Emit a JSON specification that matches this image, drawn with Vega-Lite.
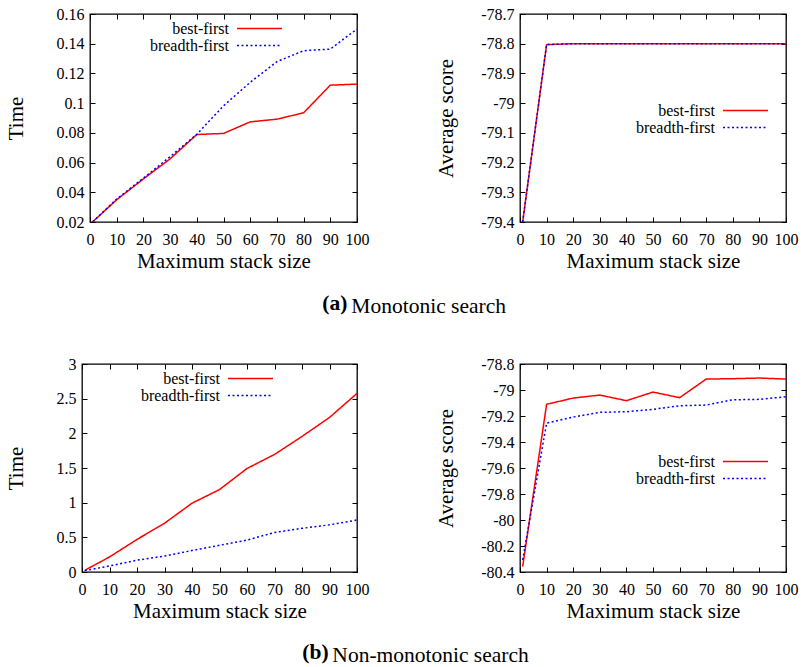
{
  "$schema": "https://vega.github.io/schema/vega-lite/v6.json",
  "background": "white",
  "padding": {"left": 4, "top": 5, "right": 0, "bottom": 0},
  "datasets": {
    "a_time": [
      {"size": 1, "method": "best-first", "value": 0.0201},
      {"size": 10, "method": "best-first", "value": 0.035},
      {"size": 20, "method": "best-first", "value": 0.049},
      {"size": 30, "method": "best-first", "value": 0.0625},
      {"size": 40, "method": "best-first", "value": 0.0789},
      {"size": 50, "method": "best-first", "value": 0.0796},
      {"size": 60, "method": "best-first", "value": 0.0874},
      {"size": 70, "method": "best-first", "value": 0.0892},
      {"size": 80, "method": "best-first", "value": 0.0935},
      {"size": 90, "method": "best-first", "value": 0.1121},
      {"size": 100, "method": "best-first", "value": 0.1128},
      {"size": 1, "method": "breadth-first", "value": 0.0201},
      {"size": 10, "method": "breadth-first", "value": 0.0355},
      {"size": 20, "method": "breadth-first", "value": 0.0495},
      {"size": 30, "method": "breadth-first", "value": 0.064},
      {"size": 40, "method": "breadth-first", "value": 0.079},
      {"size": 50, "method": "breadth-first", "value": 0.0982},
      {"size": 60, "method": "breadth-first", "value": 0.114},
      {"size": 70, "method": "breadth-first", "value": 0.1279},
      {"size": 80, "method": "breadth-first", "value": 0.1353},
      {"size": 90, "method": "breadth-first", "value": 0.1364},
      {"size": 100, "method": "breadth-first", "value": 0.1499}
    ],
    "a_score": [
      {"size": 1, "method": "best-first", "value": -79.4},
      {"size": 10, "method": "best-first", "value": -78.803},
      {"size": 20, "method": "best-first", "value": -78.8},
      {"size": 30, "method": "best-first", "value": -78.8},
      {"size": 40, "method": "best-first", "value": -78.8},
      {"size": 50, "method": "best-first", "value": -78.8},
      {"size": 60, "method": "best-first", "value": -78.8},
      {"size": 70, "method": "best-first", "value": -78.8},
      {"size": 80, "method": "best-first", "value": -78.8},
      {"size": 90, "method": "best-first", "value": -78.8},
      {"size": 100, "method": "best-first", "value": -78.8},
      {"size": 1, "method": "breadth-first", "value": -79.4},
      {"size": 10, "method": "breadth-first", "value": -78.803},
      {"size": 20, "method": "breadth-first", "value": -78.8},
      {"size": 30, "method": "breadth-first", "value": -78.8},
      {"size": 40, "method": "breadth-first", "value": -78.8},
      {"size": 50, "method": "breadth-first", "value": -78.8},
      {"size": 60, "method": "breadth-first", "value": -78.8},
      {"size": 70, "method": "breadth-first", "value": -78.8},
      {"size": 80, "method": "breadth-first", "value": -78.8},
      {"size": 90, "method": "breadth-first", "value": -78.8},
      {"size": 100, "method": "breadth-first", "value": -78.8}
    ],
    "b_time": [
      {"size": 1, "method": "best-first", "value": 0.024},
      {"size": 10, "method": "best-first", "value": 0.217},
      {"size": 20, "method": "best-first", "value": 0.47},
      {"size": 30, "method": "best-first", "value": 0.703},
      {"size": 40, "method": "best-first", "value": 0.992},
      {"size": 50, "method": "best-first", "value": 1.189},
      {"size": 60, "method": "best-first", "value": 1.493},
      {"size": 70, "method": "best-first", "value": 1.695},
      {"size": 80, "method": "best-first", "value": 1.955},
      {"size": 90, "method": "best-first", "value": 2.229},
      {"size": 100, "method": "best-first", "value": 2.576},
      {"size": 1, "method": "breadth-first", "value": 0.02},
      {"size": 10, "method": "breadth-first", "value": 0.087},
      {"size": 20, "method": "breadth-first", "value": 0.17},
      {"size": 30, "method": "breadth-first", "value": 0.23},
      {"size": 40, "method": "breadth-first", "value": 0.31},
      {"size": 50, "method": "breadth-first", "value": 0.385},
      {"size": 60, "method": "breadth-first", "value": 0.46},
      {"size": 70, "method": "breadth-first", "value": 0.57},
      {"size": 80, "method": "breadth-first", "value": 0.63},
      {"size": 90, "method": "breadth-first", "value": 0.68},
      {"size": 100, "method": "breadth-first", "value": 0.75}
    ],
    "b_score": [
      {"size": 1, "method": "best-first", "value": -80.359},
      {"size": 10, "method": "best-first", "value": -79.11},
      {"size": 20, "method": "best-first", "value": -79.062},
      {"size": 30, "method": "best-first", "value": -79.039},
      {"size": 40, "method": "best-first", "value": -79.082},
      {"size": 50, "method": "best-first", "value": -79.016},
      {"size": 60, "method": "best-first", "value": -79.059},
      {"size": 70, "method": "best-first", "value": -78.916},
      {"size": 80, "method": "best-first", "value": -78.913},
      {"size": 90, "method": "best-first", "value": -78.908},
      {"size": 100, "method": "best-first", "value": -78.916},
      {"size": 1, "method": "breadth-first", "value": -80.307},
      {"size": 10, "method": "breadth-first", "value": -79.255},
      {"size": 20, "method": "breadth-first", "value": -79.208},
      {"size": 30, "method": "breadth-first", "value": -79.172},
      {"size": 40, "method": "breadth-first", "value": -79.167},
      {"size": 50, "method": "breadth-first", "value": -79.149},
      {"size": 60, "method": "breadth-first", "value": -79.121},
      {"size": 70, "method": "breadth-first", "value": -79.116},
      {"size": 80, "method": "breadth-first", "value": -79.075},
      {"size": 90, "method": "breadth-first", "value": -79.072},
      {"size": 100, "method": "breadth-first", "value": -79.052}
    ]
  },
  "resolve": {"scale": {"color": "independent", "strokeDash": "independent"}},
  "vconcat": [
    {
      "title": {"text": "(a)", "orient": "bottom", "anchor": "start", "dx": 318, "offset": -24, "fontWeight": "bold"},
      "bounds": "flush",
      "spacing": 7,
      "resolve": {"scale": {"color": "independent", "strokeDash": "independent"}},
      "hconcat": [
        {"width": 1, "height": 1, "view": {"stroke": null}, "data": {"values": []}, "mark": "point"},
        {
          "title": {"text": "Monotonic search", "orient": "bottom", "anchor": "start", "dx": 347, "offset": 24},
          "bounds": "flush",
          "spacing": 163,
          "resolve": {"scale": {"color": "independent", "strokeDash": "independent"}},
          "hconcat": [
            {
              "width": 267, "height": 208,
              "data": {"name": "a_time"},
              "layer": [
                {
                  "mark": {"type": "line", "strokeWidth": 1.5, "clip": true},
                  "encoding": {
                    "x": {"field": "size", "type": "quantitative", "scale": {"domain": [0, 100], "nice": false}, "axis": {"title": "Maximum stack size", "labelPadding": 14, "titlePadding": 3, "values": [0,10,20,30,40,50,60,70,80,90,100]}},
                    "y": {"field": "value", "type": "quantitative", "scale": {"domain": [0.02, 0.16], "nice": false, "zero": false}, "axis": {"title": "Time", "titlePadding": 30, "values": [0.02,0.04,0.06,0.08,0.1,0.12,0.14,0.16]}},
                    "color": {"field": "method", "type": "nominal", "scale": {"domain": ["best-first", "breadth-first"], "range": ["#ff0000", "#0000ff"]}, "legend": {"title": null, "legendX": 161, "legendY": 6, "encode": {"symbols": {"update": {"stroke": [{"test": "datum.value === 'best-first'", "value": "#ff0000"}, {"value": "#0000ff"}], "strokeDash": [{"test": "datum.value === 'best-first'", "value": [1, 0]}, {"value": [2, 2.5]}], "opacity": {"value": 1}, "strokeOpacity": {"value": 1}, "strokeWidth": {"value": 1.5}}}}}},
                    "strokeDash": {"field": "method", "type": "nominal", "scale": {"domain": ["best-first", "breadth-first"], "range": [[1, 0], [2, 2.5]]}, "legend": {"title": null, "legendX": 161, "legendY": 6}}
                  }
                },
                {
                  "mark": {"type": "text", "text": ""},
                  "encoding": {
                    "x": {"field": "size", "type": "quantitative", "axis": {"orient": "top", "labels": false, "title": null, "values": [0,10,20,30,40,50,60,70,80,90,100]}},
                    "y": {"field": "value", "type": "quantitative", "axis": {"orient": "right", "labels": false, "title": null, "values": [0.02,0.04,0.06,0.08,0.1,0.12,0.14,0.16]}}
                  }
                }
              ],
              "resolve": {"axis": {"x": "independent", "y": "independent"}}
            },
            {
              "width": 266, "height": 208,
              "data": {"name": "a_score"},
              "layer": [
                {
                  "mark": {"type": "line", "strokeWidth": 1.5, "clip": true},
                  "encoding": {
                    "x": {"field": "size", "type": "quantitative", "scale": {"domain": [0, 100], "nice": false}, "axis": {"title": "Maximum stack size", "labelPadding": 14, "titlePadding": 3, "values": [0,10,20,30,40,50,60,70,80,90,100]}},
                    "y": {"field": "value", "type": "quantitative", "scale": {"domain": [-79.4, -78.7], "nice": false, "zero": false}, "axis": {"title": "Average score", "titlePadding": 24, "values": [-79.4,-79.3,-79.2,-79.1,-79,-78.9,-78.8,-78.7]}},
                    "color": {"field": "method", "type": "nominal", "scale": {"domain": ["best-first", "breadth-first"], "range": ["#ff0000", "#0000ff"]}, "legend": {"title": null, "legendX": 217, "legendY": 88, "encode": {"symbols": {"update": {"stroke": [{"test": "datum.value === 'best-first'", "value": "#ff0000"}, {"value": "#0000ff"}], "strokeDash": [{"test": "datum.value === 'best-first'", "value": [1, 0]}, {"value": [2, 2.5]}], "opacity": {"value": 1}, "strokeOpacity": {"value": 1}, "strokeWidth": {"value": 1.5}}}}}},
                    "strokeDash": {"field": "method", "type": "nominal", "scale": {"domain": ["best-first", "breadth-first"], "range": [[1, 0], [2, 2.5]]}, "legend": {"title": null, "legendX": 217, "legendY": 88}}
                  }
                },
                {
                  "mark": {"type": "text", "text": ""},
                  "encoding": {
                    "x": {"field": "size", "type": "quantitative", "axis": {"orient": "top", "labels": false, "title": null, "values": [0,10,20,30,40,50,60,70,80,90,100]}},
                    "y": {"field": "value", "type": "quantitative", "axis": {"orient": "right", "labels": false, "title": null, "values": [-79.4,-79.3,-79.2,-79.1,-79,-78.9,-78.8,-78.7]}}
                  }
                }
              ],
              "resolve": {"axis": {"x": "independent", "y": "independent"}}
            }
          ]
        }
      ]
    },
    {
      "title": {"text": "(b)", "orient": "bottom", "anchor": "start", "dx": 298, "offset": -24, "fontWeight": "bold"},
      "bounds": "flush",
      "spacing": 0,
      "resolve": {"scale": {"color": "independent", "strokeDash": "independent"}},
      "hconcat": [
        {
          "title": {"text": "Non-monotonic search", "orient": "bottom", "anchor": "start", "dx": 328, "offset": 23},
          "bounds": "flush",
          "spacing": 163,
          "resolve": {"scale": {"color": "independent", "strokeDash": "independent"}},
          "hconcat": [
            {
              "width": 275, "height": 208,
              "data": {"name": "b_time"},
              "layer": [
                {
                  "mark": {"type": "line", "strokeWidth": 1.5, "clip": true},
                  "encoding": {
                    "x": {"field": "size", "type": "quantitative", "scale": {"domain": [0, 100], "nice": false}, "axis": {"title": "Maximum stack size", "labelPadding": 14, "titlePadding": 3, "values": [0,10,20,30,40,50,60,70,80,90,100]}},
                    "y": {"field": "value", "type": "quantitative", "scale": {"domain": [0, 3], "nice": false, "zero": false}, "axis": {"title": "Time", "titlePadding": 30, "values": [0,0.5,1,1.5,2,2.5,3]}},
                    "color": {"field": "method", "type": "nominal", "scale": {"domain": ["best-first", "breadth-first"], "range": ["#ff0000", "#0000ff"]}, "legend": {"title": null, "legendX": 160, "legendY": 6, "encode": {"symbols": {"update": {"stroke": [{"test": "datum.value === 'best-first'", "value": "#ff0000"}, {"value": "#0000ff"}], "strokeDash": [{"test": "datum.value === 'best-first'", "value": [1, 0]}, {"value": [2, 2.5]}], "opacity": {"value": 1}, "strokeOpacity": {"value": 1}, "strokeWidth": {"value": 1.5}}}}}},
                    "strokeDash": {"field": "method", "type": "nominal", "scale": {"domain": ["best-first", "breadth-first"], "range": [[1, 0], [2, 2.5]]}, "legend": {"title": null, "legendX": 160, "legendY": 6}}
                  }
                },
                {
                  "mark": {"type": "text", "text": ""},
                  "encoding": {
                    "x": {"field": "size", "type": "quantitative", "axis": {"orient": "top", "labels": false, "title": null, "values": [0,10,20,30,40,50,60,70,80,90,100]}},
                    "y": {"field": "value", "type": "quantitative", "axis": {"orient": "right", "labels": false, "title": null, "values": [0,0.5,1,1.5,2,2.5,3]}}
                  }
                }
              ],
              "resolve": {"axis": {"x": "independent", "y": "independent"}}
            },
            {
              "width": 266, "height": 208,
              "data": {"name": "b_score"},
              "layer": [
                {
                  "mark": {"type": "line", "strokeWidth": 1.5, "clip": true},
                  "encoding": {
                    "x": {"field": "size", "type": "quantitative", "scale": {"domain": [0, 100], "nice": false}, "axis": {"title": "Maximum stack size", "labelPadding": 14, "titlePadding": 3, "values": [0,10,20,30,40,50,60,70,80,90,100]}},
                    "y": {"field": "value", "type": "quantitative", "scale": {"domain": [-80.4, -78.8], "nice": false, "zero": false}, "axis": {"title": "Average score", "titlePadding": 24, "values": [-80.4,-80.2,-80,-79.8,-79.6,-79.4,-79.2,-79,-78.8]}},
                    "color": {"field": "method", "type": "nominal", "scale": {"domain": ["best-first", "breadth-first"], "range": ["#ff0000", "#0000ff"]}, "legend": {"title": null, "legendX": 217, "legendY": 89, "encode": {"symbols": {"update": {"stroke": [{"test": "datum.value === 'best-first'", "value": "#ff0000"}, {"value": "#0000ff"}], "strokeDash": [{"test": "datum.value === 'best-first'", "value": [1, 0]}, {"value": [2, 2.5]}], "opacity": {"value": 1}, "strokeOpacity": {"value": 1}, "strokeWidth": {"value": 1.5}}}}}},
                    "strokeDash": {"field": "method", "type": "nominal", "scale": {"domain": ["best-first", "breadth-first"], "range": [[1, 0], [2, 2.5]]}, "legend": {"title": null, "legendX": 217, "legendY": 89}}
                  }
                },
                {
                  "mark": {"type": "text", "text": ""},
                  "encoding": {
                    "x": {"field": "size", "type": "quantitative", "axis": {"orient": "top", "labels": false, "title": null, "values": [0,10,20,30,40,50,60,70,80,90,100]}},
                    "y": {"field": "value", "type": "quantitative", "axis": {"orient": "right", "labels": false, "title": null, "values": [-80.4,-80.2,-80,-79.8,-79.6,-79.4,-79.2,-79,-78.8]}}
                  }
                }
              ],
              "resolve": {"axis": {"x": "independent", "y": "independent"}}
            }
          ]
        }
      ]
    }
  ],
  "spacing": 37,
  "config": {
    "font": "Liberation Serif",
    "view": {"stroke": "black", "strokeWidth": 1.3},
    "style": {
      "guide-label": {"font": "Liberation Serif", "fontSize": 16, "fill": "black"},
      "guide-title": {"font": "Liberation Serif", "fontSize": 21, "fontWeight": "normal", "fill": "black"}
    },
    "axis": {
      "domain": false, "grid": false, "tickSize": -5, "tickColor": "black", "tickWidth": 1,
      "labelFont": "Liberation Serif", "labelFontSize": 16, "labelColor": "black", "labelPadding": 11,
      "labelFlush": false, "labelOverlap": false,
      "labelExpr": "replace(format(datum.value, '~g'), '\u2212', '-')",
      "titleFont": "Liberation Serif", "titleFontSize": 21, "titleFontWeight": "normal", "titleColor": "black", "titlePadding": 6
    },
    "legend": {
      "orient": "none", "symbolType": "M-3,0H3", "symbolSize": 225, "symbolStrokeWidth": 1.5, "symbolOpacity": 1,
      "symbolFillColor": "transparent",
      "labelAlign": "right", "labelOffset": -39, "labelFont": "Liberation Serif", "labelFontSize": 16,
      "labelColor": "black", "rowPadding": 0, "padding": 0
    },
    "title": {"font": "Liberation Serif", "fontSize": 21.5, "fontWeight": "normal", "color": "black", "baseline": "alphabetic"}
  }
}
